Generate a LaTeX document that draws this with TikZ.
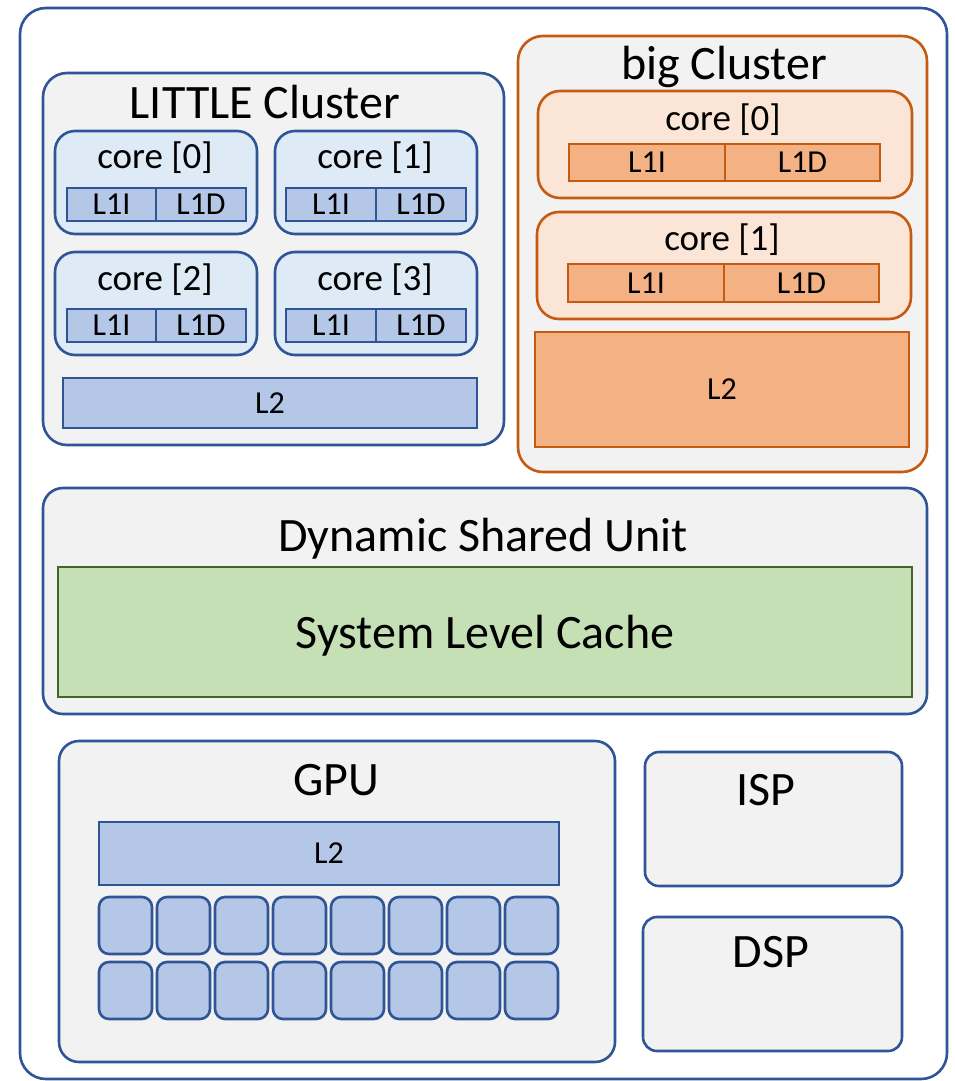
\documentclass[tikz,border=0pt]{standalone}
\usepackage{fontspec}
\setmainfont{Carlito}
\definecolor{bline}{HTML}{2F5597}
\definecolor{oline}{HTML}{C55A11}
\definecolor{gline}{HTML}{43652B}
\definecolor{greyfill}{HTML}{F2F2F2}
\definecolor{corebl}{HTML}{DEEBF7}
\definecolor{cachebl}{HTML}{B4C7E7}
\definecolor{coreor}{HTML}{FBE5D6}
\definecolor{cacheor}{HTML}{F4B183}
\definecolor{slcfill}{HTML}{C5E0B4}
\newcommand\bx[7]{\node[#6, minimum width={(#4-#2)*1pt}, minimum height={(#5-#3)*1pt}] (#1) at ({(#2+#4)/2},{(#3+#5)/2}) {#7};}
\tikzset{
  base/.style={draw, inner sep=0pt, outer sep=0pt, line width=2.6pt, rectangle},
  outerbox/.style={base, draw=bline, fill=white, rounded corners=26pt},
  grpbl/.style={base, draw=bline, fill=greyfill, rounded corners=24pt},
  grpor/.style={base, draw=oline, fill=greyfill, rounded corners=25pt},
  corebox/.style={base, draw=bline, fill=corebl, rounded corners=20pt},
  coreorbox/.style={base, draw=oline, fill=coreor, rounded corners=22pt},
  cbl/.style={base, draw=bline, fill=cachebl, font=\fontsize{32}{38}\selectfont},
  cor/.style={base, draw=oline, fill=cacheor, font=\fontsize{32}{38}\selectfont},
  slc/.style={base, draw=gline, fill=slcfill, text depth=0pt, font=\fontsize{48}{58}\selectfont},
  unit/.style={base, draw=bline, fill=greyfill, rounded corners=20pt},
  smallunit/.style={base, draw=bline, fill=greyfill, rounded corners=14pt},
  gcell/.style={base, draw=bline, fill=cachebl, rounded corners=10pt},
  title/.style={anchor=base, inner sep=0pt, font=\fontsize{48}{58}\selectfont},
  ctitle/.style={anchor=base, inner sep=0pt, font=\fontsize{37}{44}\selectfont},
}
\begin{document}
\begin{tikzpicture}[x=1pt,y=-1pt]
\useasboundingbox (0,0) rectangle (955,1081);
% outer
\bx{soc}{20}{8}{947}{1079}{outerbox}{}
% LITTLE cluster
\bx{little}{43}{73}{504}{445}{grpbl}{}
\node[title] (littleT) at (265,118) {LITTLE Cluster};
\bx{lc0}{55}{131}{257}{234}{corebox}{}
\bx{lc1}{275}{131}{477}{234}{corebox}{}
\bx{lc2}{55}{252}{257}{355}{corebox}{}
\bx{lc3}{275}{252}{477}{355}{corebox}{}
\node[ctitle] (lc0T) at (155,168) {core [0]};
\node[ctitle] (lc1T) at (375,168) {core [1]};
\node[ctitle] (lc2T) at (155,290) {core [2]};
\node[ctitle] (lc3T) at (375,290) {core [3]};
\bx{lc0i}{67}{188}{156}{221}{cbl}{L1I}
\bx{lc0d}{156}{188}{246}{221}{cbl}{L1D}
\bx{lc1i}{286}{188}{376}{221}{cbl}{L1I}
\bx{lc1d}{376}{188}{466}{221}{cbl}{L1D}
\bx{lc2i}{67}{309}{156}{342}{cbl}{L1I}
\bx{lc2d}{156}{309}{246}{342}{cbl}{L1D}
\bx{lc3i}{286}{309}{376}{342}{cbl}{L1I}
\bx{lc3d}{376}{309}{466}{342}{cbl}{L1D}
\bx{ll2}{63}{378}{477}{428}{cbl}{L2}
% big cluster
\bx{big}{518}{36}{927}{472}{grpor}{}
\node[title] (bigT) at (724,80) {big Cluster};
\bx{bc0}{538}{91}{912}{198}{coreorbox}{}
\bx{bc1}{537}{212}{911}{319}{coreorbox}{}
\node[ctitle] (bc0T) at (723,130) {core [0]};
\node[ctitle] (bc1T) at (722,250) {core [1]};
\bx{bc0i}{569}{144}{725}{181}{cor}{L1I}
\bx{bc0d}{725}{144}{880}{181}{cor}{L1D}
\bx{bc1i}{568}{264}{724}{302}{cor}{L1I}
\bx{bc1d}{724}{264}{879}{302}{cor}{L1D}
\bx{bl2}{535}{332}{909}{447}{cor}{L2}
% DSU
\bx{dsu}{43}{488}{927}{714}{unit}{}
\node[title] (dsuT) at (483,551) {Dynamic Shared Unit};
\bx{slcbox}{58}{567}{912}{697}{slc}{System Level Cache}
% GPU
\bx{gpu}{59}{741}{615}{1062}{unit}{}
\node[title] (gpuT) at (336,795) {GPU};
\bx{gl2}{99}{822}{559}{885}{cbl}{L2}
\foreach \i in {0,...,7}{
  \pgfmathsetmacro\xa{99+58*\i}
  \pgfmathsetmacro\xb{\xa+53}
  \bx{ga\i}{\xa}{897}{\xb}{954}{gcell}{}
  \bx{gb\i}{\xa}{962}{\xb}{1019}{gcell}{}
}
% ISP / DSP
\bx{isp}{645}{752}{902}{886}{smallunit}{}
\node[title] (ispT) at (766,805) {ISP};
\bx{dsp}{643}{917}{902}{1051}{smallunit}{}
\node[title] (dspT) at (771,967) {DSP};
\end{tikzpicture}
\end{document}
